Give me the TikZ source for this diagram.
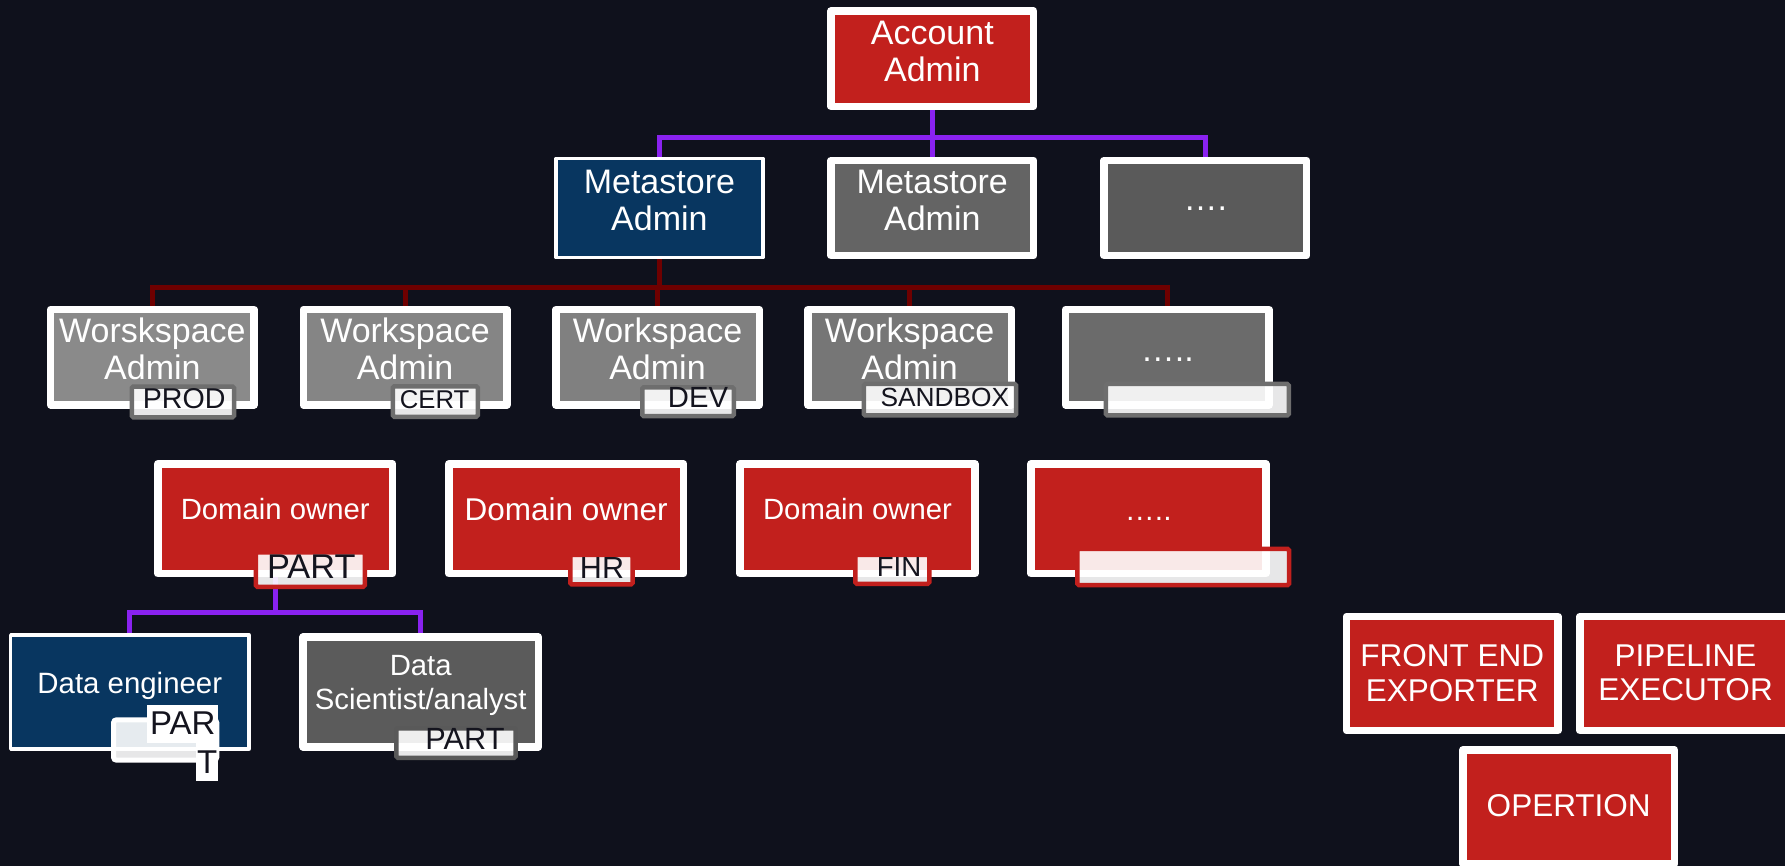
\documentclass[tikz,border=0pt]{standalone}
\usepackage{fontspec}
\setmainfont{Liberation Sans}

% palette
\definecolor{canvasbg}{HTML}{0F111C}
\definecolor{crimson}{HTML}{C2201D}
\definecolor{navy}{HTML}{083660}
\definecolor{msgrayA}{HTML}{646464}
\definecolor{msgrayB}{HTML}{5A5A5A}
\definecolor{wsgrayA}{HTML}{8A8A8A}
\definecolor{wsgrayB}{HTML}{858585}
\definecolor{wsgrayC}{HTML}{808080}
\definecolor{wsgrayD}{HTML}{767676}
\definecolor{wsgrayE}{HTML}{6B6B6B}
\definecolor{dsgray}{HTML}{5B5B5B}
\definecolor{tagrim}{HTML}{6E6E6E}
\definecolor{dstagrim}{HTML}{595959}
\definecolor{tagink}{HTML}{14141E}
\definecolor{busviolet}{HTML}{8A22F0}
\definecolor{busmaroon}{HTML}{6E0000}

\newcommand\setfs[2]{\fontsize{#1pt}{#2pt}\selectfont}

\pgfdeclarelayer{canvas}
\pgfdeclarelayer{wires}
\pgfsetlayers{canvas,wires,main}

\tikzset{
  roleframe/.style={rectangle, draw=white, line width=7.5pt, line join=round,
    inner sep=0pt, outer sep=0pt},
  thinframe/.style={rectangle, draw=white, line width=3.5pt, line join=round,
    inner sep=0pt, outer sep=0pt},
  smallrole/.style={minimum width=202.7pt, minimum height=95.2pt},
  wsrole/.style={minimum width=203.5pt, minimum height=95.2pt},
  domrole/.style={minimum width=234.9pt, minimum height=109.8pt},
  opsrole/.style={minimum width=211.5pt, minimum height=114.1pt},
  roletext/.style={text=white, align=center, inner sep=0pt},
  tagbox/.style={rectangle, fill=white, fill opacity=0.9, draw opacity=1,
    line width=4.5pt, rounded corners=1.5pt, inner sep=0pt, outer sep=0pt},
  tagtext/.style={text=tagink, anchor=base, inner sep=0pt},
  violetbus/.style={draw=busviolet, line width=5pt},
  maroonbus/.style={draw=busmaroon, line width=5pt},
}

\begin{document}
\begin{tikzpicture}[x=1pt, y=-1pt]
\begin{pgfonlayer}{canvas}
  \fill[canvasbg] (0,0) rectangle (1785,866);
\end{pgfonlayer}
\useasboundingbox (0,0) rectangle (1785,866);
\clip (0,0) rectangle (1785,866);

% ---- account level
\node[roleframe, smallrole, fill=crimson] (acc) at (932.3,58.7) {};
\node[roletext, font={\setfs{34}{37}}] (accT) at (932.3,51) {Account\\Admin};

% ---- metastore level
\node[thinframe, fill=navy, minimum width=206.7pt, minimum height=99.1pt] (ms1) at (659.4,208) {};
\node[roleframe, smallrole, fill=msgrayA] (ms2) at (932.3,208) {};
\node[roleframe, smallrole, fill=msgrayB] (ms3) at (1205.3,208) {};
\node[roletext, font={\setfs{34}{37}}] (ms1T) at (659.4,200) {Metastore\\Admin};
\node[roletext, font={\setfs{34}{37}}] (ms2T) at (932.3,200) {Metastore\\Admin};
\node[roletext, font={\setfs{34}{37}}, anchor=base] (ms3T) at (1205.3,211) {….};

% ---- workspace level
\node[roleframe, wsrole, fill=wsgrayA] (ws1) at (152.4,357.3) {};
\node[roleframe, wsrole, fill=wsgrayB] (ws2) at (405,357.3) {};
\node[roleframe, wsrole, fill=wsgrayC] (ws3) at (657.5,357.3) {};
\node[roleframe, wsrole, fill=wsgrayD] (ws4) at (909.5,357.3) {};
\node[roleframe, wsrole, fill=wsgrayE] (ws5) at (1167.3,357.3) {};
\node[roletext, font={\setfs{34}{37}}] (ws1T) at (152.4,349) {Worskspace\\Admin};
\node[roletext, font={\setfs{34}{37}}] (ws2T) at (405,349) {Workspace\\Admin};
\node[roletext, font={\setfs{34}{37}}] (ws3T) at (657.5,349) {Workspace\\Admin};
\node[roletext, font={\setfs{34}{37}}] (ws4T) at (909.5,349) {Workspace\\Admin};
\node[roletext, font={\setfs{34}{37}}, anchor=base] (ws5T) at (1167.3,362) {…..};

\node[tagbox, draw=tagrim, minimum width=102.3pt, minimum height=30.7pt] (ws1tag) at (182.9,401.9) {};
\node[tagbox, draw=tagrim, minimum width=84.9pt, minimum height=30.5pt] (ws2tag) at (435.3,401.5) {};
\node[tagbox, draw=tagrim, minimum width=91.5pt, minimum height=28.8pt] (ws3tag) at (688,401.7) {};
\node[tagbox, draw=tagrim, minimum width=152.4pt, minimum height=31.5pt] (ws4tag) at (939.95,399.7) {};
\node[tagbox, draw=tagrim, minimum width=182.8pt, minimum height=31.5pt] (ws5tag) at (1197.35,399.7) {};
\node[tagtext, font={\setfs{28.6}{30}}] (ws1tagT) at (184.2,408.7) {PROD};
\node[tagtext, font={\setfs{25.7}{27}}] (ws2tagT) at (434.6,408.7) {CERT};
\node[tagtext, font={\setfs{29.2}{31}}] (ws3tagT) at (698,407.7) {DEV};
\node[tagtext, font={\setfs{26.3}{28}}] (ws4tagT) at (944.9,406.7) {SANDBOX};

% ---- domain level
\node[roleframe, domrole, fill=crimson] (do1) at (275.2,518.7) {};
\node[roleframe, domrole, fill=crimson] (do2) at (566.2,518.7) {};
\node[roleframe, domrole, fill=crimson] (do3) at (857.5,518.7) {};
\node[roleframe, domrole, fill=crimson] (do4) at (1148.3,518.7) {};
\node[roletext, font={\setfs{29.3}{32}}] (do1T) at (275.2,509.2) {Domain owner};
\node[roletext, font={\setfs{31.5}{34}}] (do2T) at (566.2,509.2) {Domain owner};
\node[roletext, font={\setfs{29.3}{32}}] (do3T) at (857.5,509.2) {Domain owner};
\node[roletext, font={\setfs{30}{32}}, anchor=base] (do4T) at (1148.3,520) {…..};

\node[tagbox, draw=crimson, minimum width=108.9pt, minimum height=34.5pt] (do1tag) at (310.3,569.5) {};
\node[tagbox, draw=crimson, minimum width=62.3pt, minimum height=29.5pt] (do2tag) at (601.4,569.7) {};
\node[tagbox, draw=crimson, minimum width=74pt, minimum height=28.8pt] (do3tag) at (892.25,569.35) {};
\node[tagbox, draw=crimson, minimum width=211.8pt, minimum height=36.1pt] (do4tag) at (1183.15,567) {};
\node[tagtext, font={\setfs{34.3}{36}}] (do1tagT) at (311.3,578) {PART};
\node[tagtext, font={\setfs{30.5}{32}}] (do2tagT) at (602,578.3) {HR};
\node[tagtext, font={\setfs{27.6}{29}}] (do3tagT) at (899,576) {FIN};

% ---- team level
\node[thinframe, fill=navy, minimum width=238.3pt, minimum height=113.9pt] (de) at (129.8,692) {};
\node[roleframe, fill=dsgray, minimum width=235.2pt, minimum height=109.9pt] (ds) at (420.7,692) {};
\node[roletext, font={\setfs{29.4}{33}}] (deT) at (129.8,686) {Data engineer};
\node[roletext, font={\setfs{29.3}{33.3}}] (dsT) at (420.7,685.5) {Data\\Scientist/analyst};

\node[tagbox, draw=white, line width=5pt, rounded corners=3pt,
      minimum width=103.3pt, minimum height=40.4pt] (detag) at (165.15,740) {};
\node[rectangle, fill=white, inner sep=0pt, minimum width=71pt, minimum height=38.3pt,
      text=tagink, font={\setfs{33}{35}}, text height=19.6pt, text depth=0pt] (deParA) at (182.8,724.2) {PAR};
\node[rectangle, fill=white, inner sep=0pt, minimum width=22.3pt, minimum height=37.4pt,
      text=tagink, font={\setfs{33}{35}}, text height=22.6pt, text depth=0pt] (deParB) at (207.2,762) {T};

\node[tagbox, draw=dstagrim, minimum width=119.4pt, minimum height=29.5pt] (dstag) at (455.95,743) {};
\node[tagtext, font={\setfs{30.7}{32}}] (dstagT) at (465,749.3) {PART};

% ---- service roles
\node[roleframe, opsrole, fill=crimson] (fe) at (1452.2,673.5) {};
\node[roleframe, opsrole, fill=crimson] (pe) at (1685.5,673.5) {};
\node[roleframe, opsrole, fill=crimson] (op) at (1568.7,806.8) {};
\node[roletext, font={\setfs{31.5}{34.7}}] (feT) at (1452.2,672.9) {FRONT END\\EXPORTER};
\node[roletext, font={\setfs{31.5}{34.7}}] (peT) at (1685.5,672.9) {PIPELINE\\EXECUTOR};
\node[roletext, font={\setfs{31.5}{34.7}}] (opT) at (1568.7,805.8) {OPERTION};

% ---- connectors
\coordinate (busA) at (932.3,138);
\coordinate (busB) at (659.4,288);
\coordinate (busC) at (275.2,612.5);
\begin{pgfonlayer}{wires}
  \draw[violetbus] (acc.south) -- (busA);
  \draw[violetbus] (ms1.north) |- (busA) -| (ms3.north);
  \draw[violetbus] (busA) -- (ms2.north);

  \draw[maroonbus] (ms1.south) -- (busB);
  \draw[maroonbus] (ws1.north) |- (busB) -| (ws5.north);
  \foreach \w in {ws2,ws3,ws4}
    \draw[maroonbus] (\w.north) -- (\w.north |- busB);

  \draw[violetbus] (do1.south) -- (busC);
  \draw[violetbus] (de.north) |- (busC) -| (ds.north);
\end{pgfonlayer}
\end{tikzpicture}
\end{document}
